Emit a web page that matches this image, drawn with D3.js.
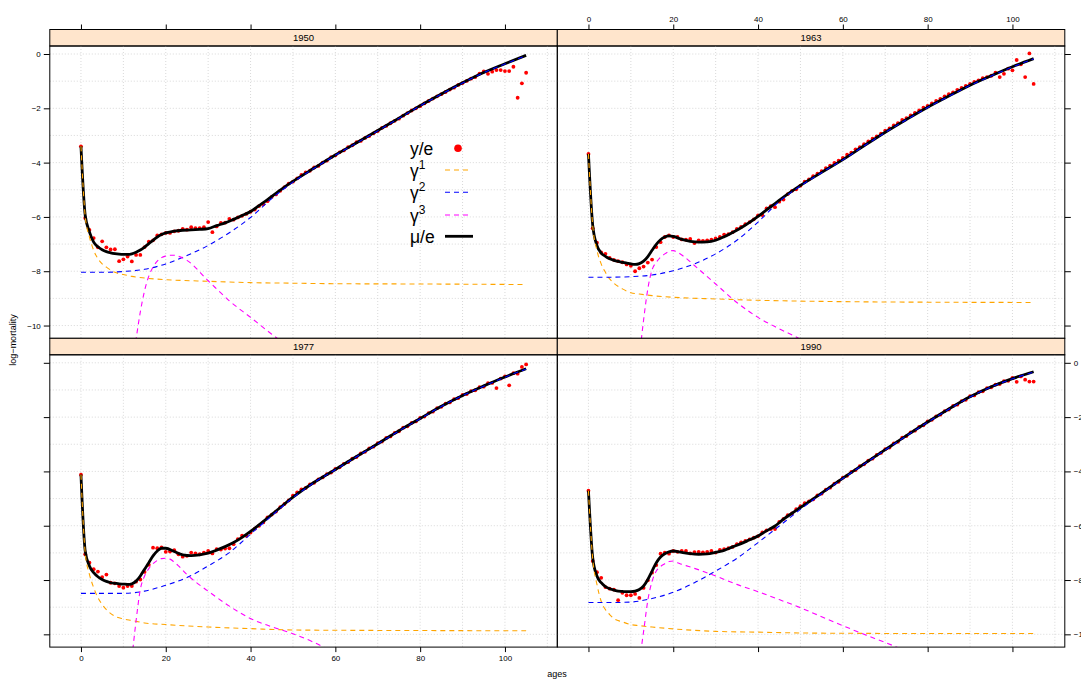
<!DOCTYPE html>
<html>
<head>
<meta charset="utf-8">
<script src="https://cdn.jsdelivr.net/npm/d3@7"></script>
<style>
  body { margin: 0; background: #fff; }
  svg { display: block; font-family: "Liberation Sans", Arial, sans-serif; }
</style>
</head>
<body>
<svg width="1081" height="680"></svg>
<script>
// observed log-mortality, one value per age 0..105
const obs1950 = [-3.40,-6.04,-6.48,-6.78,-7.12,-6.90,-7.12,-7.20,-7.19,-7.63,-7.56,-7.46,-7.64,-7.40,-7.40,-7.11,-6.91,-6.86,-6.68,-6.64,
  -6.59,-6.59,-6.53,-6.51,-6.44,-6.47,-6.38,-6.41,-6.41,-6.38,-6.19,-6.56,-6.35,-6.22,-6.21,-6.07,-6.10,-6.02,-5.96,-5.89,
  -5.81,-5.73,-5.60,-5.53,-5.42,-5.26,-5.17,-5.04,-4.90,-4.77,-4.70,-4.58,-4.45,-4.36,-4.30,-4.18,-4.12,-4.00,-3.93,-3.80,
  -3.73,-3.62,-3.55,-3.43,-3.36,-3.25,-3.20,-3.09,-3.02,-2.92,-2.84,-2.72,-2.65,-2.55,-2.46,-2.38,-2.27,-2.18,-2.08,-2.00,
  -1.92,-1.82,-1.73,-1.64,-1.56,-1.48,-1.40,-1.31,-1.24,-1.14,-1.07,-0.99,-0.91,-0.85,-0.72,-0.64,-0.73,-0.65,-0.59,-0.59,
  -0.63,-0.63,-0.47,-1.61,-1.08,-0.69]
const obs1963 = [-3.68,-6.42,-6.95,-7.31,-7.36,-7.51,-7.58,-7.63,-7.67,-7.75,-7.80,-8.00,-7.89,-7.83,-7.68,-7.57,-7.11,-6.93,-6.74,-6.68,
  -6.74,-6.74,-6.83,-6.84,-6.81,-6.96,-6.86,-6.88,-6.86,-6.84,-6.79,-6.74,-6.65,-6.63,-6.56,-6.44,-6.37,-6.27,-6.19,-6.09,
  -5.94,-5.93,-5.69,-5.60,-5.64,-5.44,-5.36,-5.16,-5.04,-4.98,-4.85,-4.70,-4.62,-4.50,-4.41,-4.31,-4.20,-4.11,-4.01,-3.93,
  -3.83,-3.71,-3.63,-3.51,-3.43,-3.32,-3.22,-3.12,-3.03,-2.93,-2.82,-2.74,-2.63,-2.55,-2.43,-2.36,-2.26,-2.17,-2.08,-1.98,
  -1.91,-1.82,-1.73,-1.65,-1.56,-1.48,-1.41,-1.32,-1.25,-1.17,-1.10,-1.03,-0.97,-0.89,-0.85,-0.80,-0.69,-0.85,-0.73,-0.54,
  -0.60,-0.22,-0.38,-0.85,0.02,-1.10]
const obs1977 = [-4.12,-7.05,-7.36,-7.60,-7.69,-7.89,-7.80,-8.10,-8.12,-8.22,-8.28,-8.22,-8.22,-8.06,-7.98,-7.70,-7.44,-6.81,-6.83,-6.80,
  -6.96,-6.95,-6.90,-7.05,-7.14,-7.11,-6.99,-7.02,-7.05,-6.99,-6.93,-7.02,-6.86,-6.88,-6.84,-6.83,-6.68,-6.49,-6.37,-6.37,
  -6.25,-6.11,-6.00,-5.88,-5.69,-5.59,-5.48,-5.32,-5.20,-5.07,-4.89,-4.77,-4.66,-4.61,-4.48,-4.42,-4.29,-4.22,-4.10,-4.04,
  -3.91,-3.85,-3.72,-3.66,-3.53,-3.47,-3.34,-3.28,-3.15,-3.09,-2.96,-2.90,-2.77,-2.71,-2.58,-2.52,-2.39,-2.34,-2.21,-2.16,
  -2.03,-1.98,-1.85,-1.80,-1.67,-1.62,-1.50,-1.46,-1.34,-1.30,-1.18,-1.15,-1.04,-1.01,-0.90,-0.88,-0.75,-0.74,-0.93,-0.58,
  -0.50,-0.83,-0.38,-0.40,-0.15,-0.06]
const obs1990 = [-4.71,-7.30,-7.71,-7.92,-8.26,-8.32,-8.35,-8.74,-8.47,-8.56,-8.56,-8.51,-8.66,-8.29,-8.01,-7.73,-7.45,-7.03,-6.99,-7.03,
  -6.93,-6.96,-6.93,-6.93,-7.02,-6.97,-6.96,-6.98,-6.96,-6.93,-6.99,-6.89,-6.86,-6.83,-6.78,-6.68,-6.61,-6.56,-6.50,-6.44,
  -6.38,-6.25,-6.17,-6.12,-6.12,-5.86,-5.75,-5.61,-5.55,-5.39,-5.28,-5.17,-5.10,-5.03,-4.88,-4.82,-4.67,-4.60,-4.45,-4.38,
  -4.23,-4.16,-4.02,-3.95,-3.81,-3.74,-3.60,-3.53,-3.39,-3.32,-3.18,-3.12,-2.97,-2.91,-2.76,-2.70,-2.56,-2.50,-2.36,-2.30,
  -2.16,-2.10,-1.97,-1.91,-1.78,-1.72,-1.59,-1.54,-1.41,-1.36,-1.23,-1.20,-1.08,-1.05,-0.93,-0.90,-0.80,-0.78,-0.68,-0.66,
  -0.56,-0.70,-0.50,-0.62,-0.69,-0.69]

// fitted mu/e
const muAges = [0,1,2,3,4,5,6,7,8,9,10,11,12,13,14,15,16,17,18,19,20,22,24,26,28,30,32,34,36,38,40,42,44,46,48,50,55,60,65,70,75,80,85,90,95,100,105]
const mu1950 = [-3.40,-5.94,-6.55,-6.93,-7.10,-7.21,-7.28,-7.32,-7.35,-7.37,-7.38,-7.38,-7.36,-7.30,-7.22,-7.11,-6.98,-6.86,-6.74,-6.65,-6.59,
  -6.52,-6.49,-6.48,-6.46,-6.43,-6.32,-6.22,-6.09,-5.95,-5.80,-5.58,-5.36,-5.13,-4.90,-4.69,
  -4.20,-3.72,-3.27,-2.82,-2.36,-1.90,-1.47,-1.06,-0.68,-0.36,-0.05]
const mu1963 = [-3.68,-6.30,-7.05,-7.33,-7.45,-7.54,-7.60,-7.64,-7.67,-7.70,-7.73,-7.75,-7.72,-7.63,-7.46,-7.23,-7.01,-6.84,-6.74,-6.70,-6.72,
  -6.83,-6.90,-6.93,-6.92,-6.86,-6.73,-6.57,-6.40,-6.20,-5.98,-5.74,-5.51,-5.27,-5.05,-4.84,
  -4.36,-3.89,-3.38,-2.88,-2.41,-1.96,-1.55,-1.15,-0.80,-0.47,-0.17]
const mu1977 = [-4.12,-6.93,-7.48,-7.73,-7.88,-7.98,-8.05,-8.10,-8.12,-8.14,-8.15,-8.16,-8.14,-8.04,-7.85,-7.60,-7.36,-7.11,-6.93,-6.83,-6.83,
  -6.95,-7.07,-7.10,-7.07,-7.01,-6.90,-6.77,-6.62,-6.43,-6.21,-5.97,-5.72,-5.46,-5.20,-4.95,
  -4.40,-3.93,-3.45,-2.98,-2.50,-2.05,-1.60,-1.20,-0.85,-0.52,-0.22]
const mu1990 = [-4.71,-7.18,-7.85,-8.10,-8.24,-8.32,-8.37,-8.41,-8.42,-8.43,-8.43,-8.41,-8.35,-8.22,-7.98,-7.67,-7.36,-7.15,-7.03,-6.96,-6.93,
  -6.98,-7.03,-7.05,-7.04,-6.98,-6.91,-6.78,-6.66,-6.52,-6.38,-6.19,-6.01,-5.76,-5.54,-5.33,
  -4.80,-4.25,-3.72,-3.20,-2.68,-2.18,-1.70,-1.25,-0.88,-0.58,-0.33]

// gamma 1 (infant/childhood component)
const g1Ages = [0,1,2,3,4,5,6,8,10,12,15,20,30,40,50,60,80,105]
const g1_1950 = [-3.40,-5.97,-6.74,-7.23,-7.54,-7.73,-7.85,-8.04,-8.12,-8.19,-8.25,-8.31,-8.37,-8.42,-8.44,-8.46,-8.47,-8.49]
const g1_1963 = [-3.68,-6.32,-7.23,-7.73,-8.04,-8.28,-8.44,-8.65,-8.79,-8.84,-8.90,-8.96,-9.02,-9.07,-9.10,-9.12,-9.14,-9.15]
const g1_1977 = [-4.12,-7.00,-7.79,-8.28,-8.65,-8.90,-9.09,-9.33,-9.43,-9.49,-9.58,-9.64,-9.73,-9.79,-9.84,-9.85,-9.86,-9.87]
const g1_1990 = [-4.71,-7.22,-8.16,-8.78,-9.09,-9.27,-9.42,-9.54,-9.64,-9.68,-9.73,-9.80,-9.89,-9.92,-9.95,-9.96,-9.97,-9.97]

// gamma 2 (senescence component)
const g2Ages = [0,5,10,15,20,25,30,35,40,45,50,55,60,65,70,75,80,85,90,95,100,105]
const g2_1950 = [-8.04,-8.04,-8.01,-7.93,-7.73,-7.42,-7.05,-6.58,-6.02,-5.32,-4.72,-4.21,-3.73,-3.28,-2.83,-2.37,-1.91,-1.48,-1.07,-0.69,-0.37,-0.06]
const g2_1963 = [-8.22,-8.22,-8.20,-8.14,-7.98,-7.73,-7.36,-6.86,-6.19,-5.43,-4.86,-4.37,-3.90,-3.39,-2.89,-2.42,-1.97,-1.56,-1.16,-0.81,-0.48,-0.18]
const g2_1977 = [-8.49,-8.49,-8.49,-8.41,-8.19,-7.91,-7.48,-6.99,-6.31,-5.63,-4.97,-4.41,-3.94,-3.46,-2.99,-2.51,-2.06,-1.61,-1.21,-0.86,-0.53,-0.23]
const g2_1990 = [-8.83,-8.83,-8.81,-8.68,-8.45,-8.10,-7.67,-7.20,-6.62,-6.01,-5.40,-4.82,-4.26,-3.73,-3.21,-2.69,-2.19,-1.71,-1.26,-0.89,-0.59,-0.34]

// gamma 3 (accident hump)
const g3Ages = [12,13,14,15,16,17,18,19,20,21,22,23,25,30,35,40,45,50,55,60,65,70,75]
const g3_1950 = [-11.6,-10.5,-9.5,-8.72,-8.18,-7.85,-7.63,-7.50,-7.44,-7.41,-7.41,-7.45,-7.60,-8.35,-9.09,-9.70,-10.32,-10.9,-11.5,-12.1,-12.7,-13.3,-13.9]
const g3_1963 = [-11.2,-9.8,-8.65,-7.95,-7.67,-7.48,-7.36,-7.27,-7.24,-7.30,-7.40,-7.52,-7.79,-8.47,-9.15,-9.70,-10.12,-10.5,-11.0,-11.4,-11.8,-12.2,-12.6]
const g3_1977 = [-10.9,-9.5,-8.35,-7.85,-7.58,-7.40,-7.28,-7.21,-7.20,-7.23,-7.34,-7.48,-7.80,-8.41,-8.96,-9.42,-9.72,-9.98,-10.3,-10.7,-11.1,-11.5,-11.9]
const g3_1990 = [-11.0,-9.9,-8.75,-8.05,-7.67,-7.50,-7.40,-7.32,-7.30,-7.36,-7.42,-7.47,-7.57,-7.85,-8.16,-8.43,-8.72,-9.02,-9.35,-9.68,-10.0,-10.3,-10.62]

const years = ['1950', '1963', '1977', '1990']
const xTicks = [0, 20, 40, 60, 80, 100]
const yTicks = [0, -2, -4, -6, -8, -10]

const svg = d3.select('svg')

const panelW = 507.5
const panelH = 292.3
const stripH = 16.5
const leftX = 49.8
const topY = 29.5

const panels = [
  {year: years[0], col: 0, row: 0, obs: obs1950, mu: mu1950, g1: g1_1950, g2: g2_1950, g3: g3_1950},
  {year: years[1], col: 1, row: 0, obs: obs1963, mu: mu1963, g1: g1_1963, g2: g2_1963, g3: g3_1963},
  {year: years[2], col: 0, row: 1, obs: obs1977, mu: mu1977, g1: g1_1977, g2: g2_1977, g3: g3_1977},
  {year: years[3], col: 1, row: 1, obs: obs1990, mu: mu1990, g1: g1_1990, g2: g2_1990, g3: g3_1990}
]

const xScale = d3.scaleLinear().domain([-7.35, 112.35]).range([0, panelW])
const yScale = d3.scaleLinear().domain([-10.47, 0.295]).range([panelH, 0])

const line = d3.line()
  .x(d => xScale(d[0]))
  .y(d => yScale(d[1]))
  .curve(d3.curveMonotoneX)

const zip = (xs, ys) => xs.map((x, i) => [x, ys[i]])

const styleAxis = g => {
  g.select('.domain').remove()
  g.selectAll('line').attr('stroke', '#000')
  g.selectAll('text').attr('font-size', 8).attr('fill', '#000')
}

panels.forEach(p => {
  const x0 = leftX + p.col * panelW
  const stripY = topY + p.row * (stripH + panelH)
  const y0 = stripY + stripH

  // strip
  svg.append('rect')
    .attr('x', x0).attr('y', stripY)
    .attr('width', panelW).attr('height', stripH)
    .attr('fill', '#ffe5cc').attr('stroke', '#000').attr('stroke-width', 1)
  svg.append('text')
    .attr('x', x0 + panelW / 2).attr('y', stripY + stripH / 2 + 3.4)
    .attr('text-anchor', 'middle').attr('font-size', 9.5)
    .text(p.year)

  const g = svg.append('g').attr('transform', `translate(${x0},${y0})`)

  g.append('clipPath').attr('id', 'clip' + p.year)
    .append('rect').attr('width', panelW).attr('height', panelH)

  // grid
  const grid = g.append('g')
    .attr('stroke', '#cfcfcf').attr('stroke-width', 0.8).attr('stroke-dasharray', '1,2')
  grid.selectAll('.gx').data(d3.range(0, 111, 10)).enter().append('line')
    .attr('x1', d => xScale(d)).attr('x2', d => xScale(d))
    .attr('y1', 0).attr('y2', panelH)
  grid.selectAll('.gy').data(d3.range(-10, 0.5, 1)).enter().append('line')
    .attr('x1', 0).attr('x2', panelW)
    .attr('y1', d => yScale(d)).attr('y2', d => yScale(d))

  const plot = g.append('g').attr('clip-path', `url(#clip${p.year})`)

  plot.selectAll('circle')
    .data(p.obs)
    .enter().append('circle')
      .attr('cx', (d, i) => xScale(i))
      .attr('cy', d => yScale(d))
      .attr('r', 1.9)
      .attr('fill', '#ff0000')

  plot.append('path')
    .attr('d', line(zip(muAges, p.mu)))
    .attr('fill', 'none').attr('stroke', '#000').attr('stroke-width', 2.8)
    .attr('stroke-linejoin', 'round')

  const comps = [
    {ages: g1Ages, vals: p.g1, color: 'orange'},
    {ages: g2Ages, vals: p.g2, color: 'blue'},
    {ages: g3Ages, vals: p.g3, color: 'magenta'}
  ]
  comps.forEach(c => {
    plot.append('path')
      .attr('d', line(zip(c.ages, c.vals)))
      .attr('fill', 'none').attr('stroke', c.color)
      .attr('stroke-width', 1.1).attr('stroke-dasharray', '5,4')
  })

  // panel border
  g.append('rect')
    .attr('width', panelW).attr('height', panelH)
    .attr('fill', 'none').attr('stroke', '#000').attr('stroke-width', 1)

  // axes: ticks on outer edges, labels alternate
  if (p.row === 0) {
    svg.append('g').attr('transform', `translate(${x0},${stripY})`)
      .call(d3.axisTop(xScale).tickValues(xTicks).tickSize(5).tickPadding(3)
        .tickFormat(p.col === 1 ? d3.format('d') : () => ''))
      .call(styleAxis)
  } else {
    g.append('g').attr('transform', `translate(0,${panelH})`)
      .call(d3.axisBottom(xScale).tickValues(xTicks).tickSize(5).tickPadding(3)
        .tickFormat(p.col === 0 ? d3.format('d') : () => ''))
      .call(styleAxis)
  }
  if (p.col === 0) {
    g.append('g')
      .call(d3.axisLeft(yScale).tickValues(yTicks).tickSize(6).tickPadding(3)
        .tickFormat(p.row === 0 ? d3.format('d') : () => ''))
      .call(styleAxis)
  } else {
    g.append('g').attr('transform', `translate(${panelW},0)`)
      .call(d3.axisRight(yScale).tickValues(yTicks).tickSize(6).tickPadding(3)
        .tickFormat(p.row === 1 ? d3.format('d') : () => ''))
      .call(styleAxis)
  }
})

// axis titles
svg.append('text')
  .attr('x', 557).attr('y', 677)
  .attr('text-anchor', 'middle').attr('font-size', 9)
  .text('ages')
svg.append('text')
  .attr('transform', 'translate(16,340) rotate(-90)')
  .attr('text-anchor', 'middle').attr('font-size', 9)
  .text('log\u2212mortality')

// legend
const legendItems = [
  {label: 'y/e', sup: '', type: 'point', color: '#ff0000'},
  {label: '\u03b3', sup: '1', type: 'dash', color: 'orange'},
  {label: '\u03b3', sup: '2', type: 'dash', color: 'blue'},
  {label: '\u03b3', sup: '3', type: 'dash', color: 'magenta'},
  {label: '\u03bc/e', sup: '', type: 'line', color: '#000'}
]
const legendY = [148.3, 170, 192.3, 215, 236.3]
const legend = svg.append('g')
legendItems.forEach((d, i) => {
  const cy = legendY[i]
  const t = legend.append('text')
    .attr('x', 410).attr('y', cy + 7)
    .attr('font-size', 17.5)
    .text(d.label)
  if (d.sup) {
    t.append('tspan').attr('dy', -8).attr('font-size', 12).text(d.sup)
  }
  if (d.type === 'point') {
    legend.append('circle').attr('cx', 458).attr('cy', cy).attr('r', 3.8).attr('fill', d.color)
  } else if (d.type === 'dash') {
    legend.append('line')
      .attr('x1', 445).attr('x2', 470).attr('y1', cy).attr('y2', cy)
      .attr('stroke', d.color).attr('stroke-width', 1.1).attr('stroke-dasharray', '5,4')
  } else {
    legend.append('line')
      .attr('x1', 445).attr('x2', 473).attr('y1', cy).attr('y2', cy)
      .attr('stroke', d.color).attr('stroke-width', 2.8)
  }
})
</script>
</body>
</html>
